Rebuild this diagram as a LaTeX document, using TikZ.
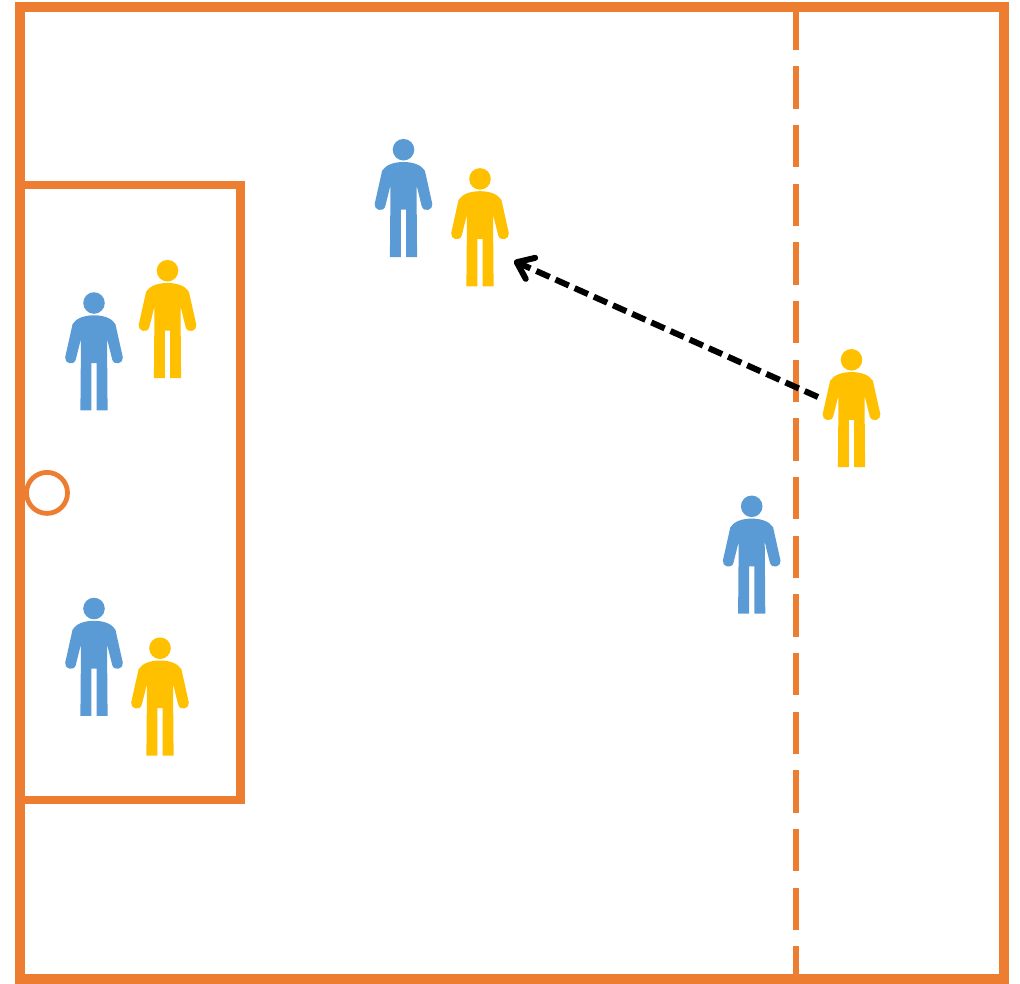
\documentclass[tikz,border=0pt]{standalone}
\usetikzlibrary{arrows.meta}
\definecolor{courtorange}{HTML}{ED7D31}
\definecolor{teamblue}{HTML}{5B9BD5}
\definecolor{teamyellow}{HTML}{FFC000}
\tikzset{
  x=1pt,y=-1pt,
  court/.style={draw=courtorange,line width=10pt,miter limit=10},
  zone/.style={draw=courtorange,line width=8.6pt},
  midline/.style={draw=courtorange,line width=5.6pt,dash pattern=on 42.5pt off 16.17pt},
  hoop/.style={draw=courtorange,line width=4.8pt},
  pass/.style={draw=black,line width=6pt,dash pattern=on 14.6pt off 6.4pt,-{Straight Barb[length=15pt,width=23pt,line width=6pt,round]}},
  person/.pic={
    \fill[pic actions] (0,0) circle[radius=10.8];
    \fill[pic actions] (0,12.3) .. controls (-9,12.3) and (-17.5,14.8) .. (-21.4,21)
      -- (-28.8,54.2) .. controls (-30,60.4) and (-20,63.2) .. (-18.2,56.4)
      -- (-13,35.5) -- (-13.6,107.4) -- (-2.6,107.4) -- (-2.6,60) -- (2.6,60) -- (2.6,107.4) -- (13.6,107.4) -- (13,35.5)
      -- (18.2,56.4) .. controls (20,63.2) and (30,60.4) .. (28.8,54.2)
      -- (21.4,21) .. controls (17.5,14.8) and (9,12.3) .. (0,12.3) -- cycle;
  }
}
\begin{document}
\begin{tikzpicture}
\useasboundingbox (0,0) rectangle (1020,983);
\coordinate (ctl) at (19.7,7.3);
\coordinate (ctr) at (1004.3,7.3);
\coordinate (cbl) at (19.7,978.6);
\coordinate (cbr) at (1004.3,978.6);
\coordinate (mt) at (795.7,7.5);
\coordinate (mb) at (795.7,978.6);
\coordinate (zt) at (19.7,185);
\coordinate (ztr) at (240.2,185);
\coordinate (zbr) at (240.2,800);
\coordinate (zb) at (19.7,800);
\coordinate (passstart) at (818,397);
\coordinate (passend) at (514,261);
\draw[court] (ctl) -- (ctr) -- (cbr) -- (cbl) -- cycle;
\draw[midline] (mt) -- (mb);
\draw[zone] (zt) -- (ztr) -- (zbr) -- (zb);
\node[hoop,circle,minimum size=41pt,inner sep=0pt] (hoop) at (47,492.9) {};
\pic[fill=teamblue] at (403.5,149.7) {person};
\pic[fill=teamyellow] at (480,178.9) {person};
\pic[fill=teamblue] at (94,303) {person};
\pic[fill=teamyellow] at (167.5,270.7) {person};
\pic[fill=teamblue] at (94,608.5) {person};
\pic[fill=teamyellow] at (160,648.2) {person};
\pic[fill=teamyellow] at (851.5,359.8) {person};
\pic[fill=teamblue] at (751.7,506.3) {person};
\draw[pass] (passstart) -- (passend);
\end{tikzpicture}
\end{document}
